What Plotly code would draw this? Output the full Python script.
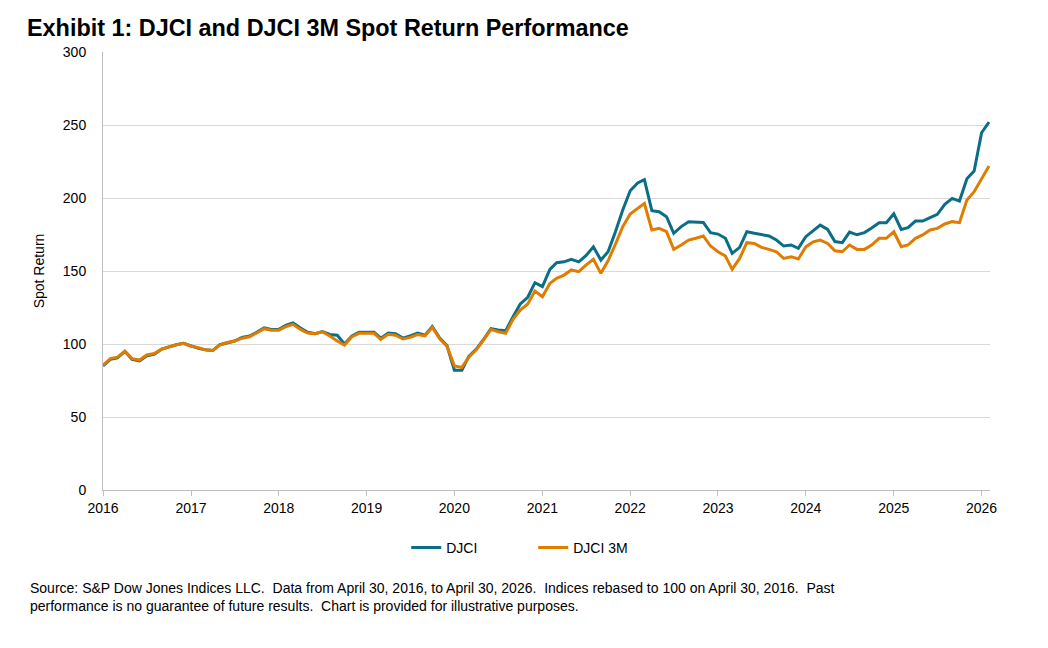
import pandas as pd
import plotly.graph_objects as go

# Monthly observations (Jan 2016 onward)
djci = [85, 89.5, 90.5, 95, 89.5, 88.5, 92, 93, 96.5, 98, 99.5, 100.5,
        98.5, 97, 96, 95.5, 99.5, 101, 102, 104.5, 105.5, 108, 111, 110,
        110, 113, 114.5, 111, 108, 107, 108.5, 106.5, 106, 100, 105.5, 108,
        108, 108, 104, 107.5, 107, 104, 105.5, 107.5, 106, 112, 104, 99,
        82, 82, 91.5, 96.5, 103, 110.5, 109.6, 109, 118.7, 127.4, 132, 142,
        139.3, 151.1, 155.7, 156.3, 158, 156.3, 160.5, 166.6, 157.5, 163.2, 177, 191.8,
        205, 210.3, 212.6, 191.3, 190.6, 187.2, 175.8, 180.4, 183.8, 183.3, 183.3, 176.3,
        175.3, 172.4, 162.1, 166.2, 176.9, 175.8, 175.1, 174, 171.2, 167.1, 167.8, 165.5,
        173.5, 177.6, 181.4, 178.5, 170.2, 169.4, 176.6, 174.8, 176.3, 179.5, 183, 183,
        189.2, 178.5, 179.7, 184.2, 184.2, 186.5, 188.8, 195.6, 199.7, 197.9, 213.2, 218.5,
        244.7, 252]

djci_3m = [85.5, 90, 91, 95, 90, 89, 92.5, 93.5, 96.5, 98, 99.5, 100.5,
           98.5, 97.5, 96, 95.5, 99.5, 101, 102, 104, 105, 107.5, 110.5, 109.5,
           109.5, 112, 113.5, 110, 107.5, 107, 108.4, 105.5, 102, 99.3, 105, 107.3,
           107.3, 107.3, 103.2, 106.6, 106, 103.4, 104.5, 106.5, 105.5, 111.5, 103.5, 98.5,
           85, 84, 91, 96, 102.7, 110, 108.4, 107.3, 116.9, 123.3, 127.4, 136.3,
           132.4, 141.5, 145, 147.2, 150.7, 149.5, 154, 158, 148.4, 157, 168.5, 180.4,
           189, 193, 196.3, 178.1, 179.2, 176.9, 164.8, 167.8, 171.2, 172.4, 174, 167.1,
           163.2, 160.3, 151.1, 158.6, 169.4, 168.9, 166.2, 164.8, 163.2, 158.6, 159.8, 158.2,
           166.5, 170, 171.2, 168.9, 163.8, 163.2, 167.8, 164.8, 164.8, 167.8, 172.4, 172.4,
           176.9, 166.6, 167.8, 172.4, 174.7, 178.1, 179.2, 182.2, 183.8, 183.1, 198.6, 204.3,
           213.5, 221.9]

dates = pd.date_range("2016-01-01", periods=len(djci), freq="MS")
year_ticks = [str(y) for y in range(2016, 2027)]
y_ticks = [0, 50, 100, 150, 200, 250, 300]

TEAL = "#0b6d86"
ORANGE = "#e07c00"
FONT = "Liberation Sans, Arial, sans-serif"

fig = go.Figure()
fig.add_trace(go.Scatter(x=dates, y=djci, mode="lines", name="DJCI",
                         line=dict(color=TEAL, width=3)))
fig.add_trace(go.Scatter(x=dates, y=djci_3m, mode="lines", name="DJCI 3M",
                         line=dict(color=ORANGE, width=3)))

fig.update_layout(
    width=1048, height=648,
    margin=dict(l=103, r=58, t=52, b=158),
    paper_bgcolor="white", plot_bgcolor="white",
    font=dict(family=FONT, size=14, color="#000000"),
    title=dict(text="<b>Exhibit 1: DJCI and DJCI 3M Spot Return Performance</b>",
               x=27 / 1048, xanchor="left", y=1 - 28 / 648, yanchor="middle",
               font=dict(family=FONT, size=23.4, color="#000000")),
    showlegend=True,
    legend=dict(orientation="h", x=0.485, xanchor="center", y=-0.132, yanchor="middle",
                font=dict(family=FONT, size=14), itemwidth=30, entrywidth=82,
                bgcolor="rgba(0,0,0,0)"),
    xaxis=dict(type="date",
               range=["2016-01-01", "2026-02-05"],
               tickvals=[pd.Timestamp(f"{y}-01-01") for y in year_ticks],
               ticktext=year_ticks,
               showgrid=False, showline=True, linecolor="#bfbfbf", linewidth=1,
               ticks="outside", ticklen=5, tickcolor="#bfbfbf",
               tickfont=dict(family=FONT, size=14), zeroline=False),
    yaxis=dict(range=[0, 300], tickvals=y_ticks,
               showgrid=True, gridcolor="#d9d9d9", gridwidth=1,
               showline=True, linecolor="#bfbfbf", linewidth=1,
               ticks="", ticklabelstandoff=13, tickfont=dict(family=FONT, size=14),
               title=dict(text="Spot Return", font=dict(family=FONT, size=14), standoff=14),
               zeroline=False),
)

fig.add_annotation(
    text=("Source: S&P Dow Jones Indices LLC. \u00a0Data from April 30, 2016, to April 30, 2026. "
          "\u00a0Indices rebased to 100 on April 30, 2016. \u00a0Past<br>"
          "performance is no guarantee of future results. \u00a0Chart is provided for illustrative purposes."),
    xref="paper", yref="paper", x=(28 - 103) / 887, y=(490 - 578) / 438,
    xanchor="left", yanchor="top", align="left", showarrow=False,
    font=dict(family=FONT, size=14, color="#000000"))

fig.write_html("out.html")
